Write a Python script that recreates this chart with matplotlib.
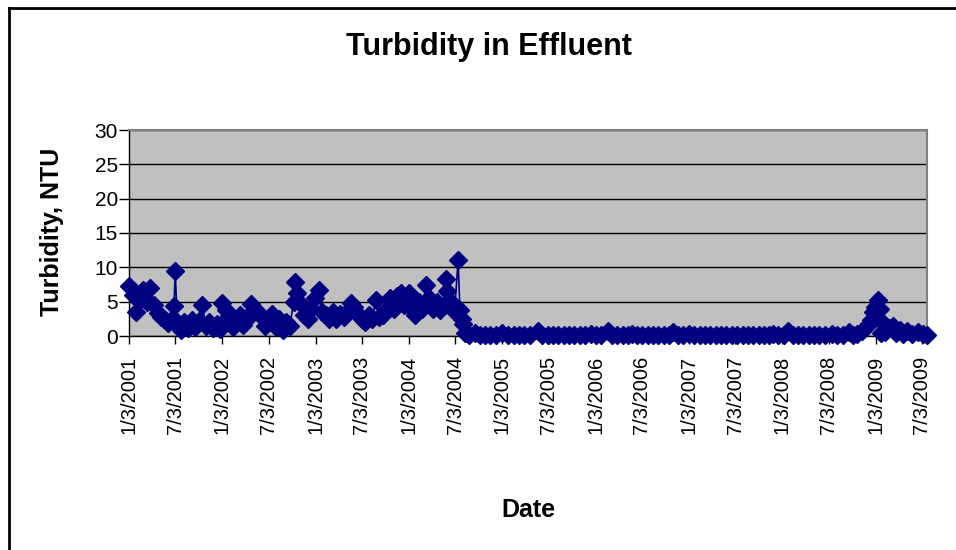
import matplotlib
matplotlib.use("Agg")
import matplotlib.pyplot as plt
from matplotlib.lines import Line2D
import pandas as pd

plt.rcParams['font.family'] = ['Liberation Sans', 'DejaVu Sans']

dates_2001 = ['2001-01-03', '2001-01-17', '2001-01-31', '2001-02-14', '2001-02-28', '2001-03-14',
              '2001-03-28', '2001-04-11', '2001-04-25', '2001-05-09', '2001-05-23', '2001-06-06',
              '2001-06-20', '2001-06-28', '2001-07-03', '2001-07-11', '2001-07-25', '2001-08-08',
              '2001-08-22', '2001-09-05', '2001-09-19', '2001-10-03', '2001-10-17', '2001-10-31',
              '2001-11-14', '2001-11-28', '2001-12-12', '2001-12-26']
vals_2001 = [7.3, 6.0, 3.5, 5.2, 6.7, 5.0,
             7.0, 4.5, 3.3, 2.8, 2.3, 1.9,
             2.5, 4.3, 9.4, 2.0, 0.9, 2.0,
             1.2, 2.3, 1.3, 2.2, 4.5, 1.5,
             2.0, 1.2, 1.8, 1.0]

dates_2002 = ['2002-01-03', '2002-01-16', '2002-01-30', '2002-02-13', '2002-02-27', '2002-03-13',
              '2002-03-27', '2002-04-10', '2002-04-24', '2002-05-08', '2002-05-22', '2002-06-05',
              '2002-06-19', '2002-07-03', '2002-07-17', '2002-07-31', '2002-08-14', '2002-08-28',
              '2002-09-11', '2002-09-25', '2002-10-09', '2002-10-16', '2002-10-23', '2002-11-06',
              '2002-11-20', '2002-12-04', '2002-12-18']
vals_2002 = [4.8, 3.8, 2.8, 1.3, 2.0, 3.0,
             1.6, 2.5, 4.6, 3.8, 3.5, 2.9,
             1.5, 2.0, 3.2, 1.3, 2.5, 0.9,
             2.0, 1.5, 5.0, 7.8, 6.2, 4.7,
             3.0, 2.5, 4.0]

dates_2003 = ['2003-01-02', '2003-01-15', '2003-01-29', '2003-02-12', '2003-02-26', '2003-03-12',
              '2003-03-26', '2003-04-09', '2003-04-23', '2003-05-07', '2003-05-21', '2003-06-04',
              '2003-06-18', '2003-07-02', '2003-07-16', '2003-07-30', '2003-08-13', '2003-08-27',
              '2003-09-10', '2003-09-24', '2003-10-08', '2003-10-22', '2003-11-05', '2003-11-19',
              '2003-12-03', '2003-12-17']
vals_2003 = [5.5, 6.7, 3.5, 3.0, 2.5, 3.5,
             2.5, 3.2, 2.8, 3.5, 4.8, 4.2,
             3.2, 2.5, 2.0, 3.0, 2.5, 5.2,
             2.8, 3.0, 4.0, 5.5, 4.0, 5.8,
             6.2, 4.5]

dates_2004 = ['2004-01-03', '2004-01-14', '2004-01-28', '2004-02-11', '2004-02-25', '2004-03-10',
              '2004-03-24', '2004-04-07', '2004-04-21', '2004-05-05', '2004-05-19', '2004-05-26',
              '2004-06-02', '2004-06-16', '2004-06-23', '2004-06-30', '2004-07-14', '2004-07-21',
              '2004-07-28', '2004-08-04', '2004-08-11', '2004-08-25', '2004-09-18', '2004-10-06',
              '2004-10-27', '2004-11-17', '2004-12-08']
vals_2004 = [6.3, 4.0, 3.0, 5.0, 4.0, 7.5,
             5.5, 4.0, 5.0, 3.8, 4.5, 8.3,
             6.5, 5.0, 4.0, 3.5, 11.0, 3.8,
             2.5, 1.8, 0.5, 0.1, 0.5, 0.1,
             0.1, 0.1, 0.1]

dates_2005_2006 = ['2005-01-02', '2005-01-26', '2005-02-16', '2005-03-09', '2005-03-30', '2005-04-20',
                   '2005-05-22', '2005-06-08', '2005-06-29', '2005-07-20', '2005-08-10', '2005-08-31',
                   '2005-09-21', '2005-10-12', '2005-11-02', '2005-11-23', '2005-12-16', '2006-01-04',
                   '2006-01-25', '2006-02-20', '2006-03-08', '2006-03-29', '2006-04-19', '2006-05-10',
                   '2006-05-25', '2006-06-14', '2006-07-05', '2006-07-26', '2006-08-16', '2006-09-06',
                   '2006-09-27', '2006-10-18', '2006-11-02', '2006-11-22', '2006-12-13']
vals_2005_2006 = [0.4, 0.1, 0.1, 0.1, 0.1, 0.1,
                  0.8, 0.1, 0.1, 0.1, 0.1, 0.1,
                  0.1, 0.1, 0.1, 0.1, 0.3, 0.1,
                  0.1, 0.8, 0.1, 0.1, 0.1, 0.1,
                  0.3, 0.1, 0.1, 0.1, 0.1, 0.1,
                  0.1, 0.1, 0.6, 0.1, 0.1]

dates_2007_2009 = ['2007-01-03', '2007-01-24', '2007-02-14', '2007-03-07', '2007-03-28', '2007-04-18',
                   '2007-05-09', '2007-05-30', '2007-06-20', '2007-07-11', '2007-08-01', '2007-08-22',
                   '2007-09-12', '2007-10-03', '2007-10-24', '2007-11-14', '2007-11-28', '2007-12-19',
                   '2008-01-09', '2008-01-26', '2008-02-13', '2008-03-05', '2008-03-26', '2008-04-16',
                   '2008-05-07', '2008-05-28', '2008-06-18', '2008-07-16', '2008-08-06', '2008-08-27',
                   '2008-09-20', '2008-10-08', '2008-10-22', '2008-11-10', '2008-11-30', '2008-12-15',
                   '2008-12-24', '2009-01-02', '2009-01-12', '2009-01-20', '2009-01-24', '2009-01-30',
                   '2009-02-10', '2009-02-24', '2009-03-10', '2009-03-24', '2009-04-07', '2009-04-21',
                   '2009-05-06', '2009-05-27', '2009-06-17', '2009-07-08', '2009-07-23']
vals_2007_2009 = [0.3, 0.1, 0.1, 0.1, 0.1, 0.1,
                  0.1, 0.1, 0.1, 0.1, 0.1, 0.1,
                  0.1, 0.1, 0.1, 0.1, 0.3, 0.1,
                  0.1, 0.7, 0.1, 0.1, 0.1, 0.1,
                  0.1, 0.1, 0.1, 0.3, 0.1, 0.1,
                  0.6, 0.1, 0.3, 0.8, 1.5, 2.3,
                  3.5, 4.2, 5.2, 4.0, 0.5, 1.9,
                  0.6, 1.2, 1.4, 0.5, 0.9, 0.3,
                  0.8, 0.3, 0.6, 0.3, 0.2]

tick_labels = ['1/3/2001', '7/3/2001', '1/3/2002', '7/3/2002', '1/3/2003', '7/3/2003',
               '1/3/2004', '7/3/2004', '1/3/2005', '7/3/2005', '1/3/2006', '7/3/2006',
               '1/3/2007', '7/3/2007', '1/3/2008', '7/3/2008', '1/3/2009', '7/3/2009']
y_ticks = [0, 5, 10, 15, 20, 25, 30]

dates = pd.to_datetime(dates_2001 + dates_2002 + dates_2003 + dates_2004
                       + dates_2005_2006 + dates_2007_2009)
vals = vals_2001 + vals_2002 + vals_2003 + vals_2004 + vals_2005_2006 + vals_2007_2009

fig = plt.figure(figsize=(9.56, 5.5), dpi=100)
fig.patch.set_facecolor('white')
ax = fig.add_axes([129 / 956, 1 - 336 / 550, (927 - 129) / 956, (336 - 130) / 550])
ax.set_facecolor('#C0C0C0')

ax.plot(dates, vals, color='#000080', linewidth=1.2, marker='D', markersize=9.5,
        markeredgecolor='#000080', markerfacecolor='#000080', clip_on=False, zorder=3)

ax.set_ylim(0, 30)
ax.set_yticks(y_ticks)
ax.set_xlim(pd.Timestamp('2001-01-03'), pd.Timestamp('2009-07-23'))
tick_pos = pd.to_datetime(tick_labels, format='%m/%d/%Y')
ax.set_xticks(tick_pos)
ax.set_xticklabels(tick_labels, rotation=90, fontsize=14.5)
ax.tick_params(axis='y', labelsize=15, direction='out', length=7, width=1, color='black', pad=1)
ax.tick_params(axis='x', direction='out', length=6, width=1, color='black', pad=8)

ax.yaxis.grid(True, color='black', linewidth=1)
ax.set_axisbelow(True)
for s in ['top', 'right']:
    ax.spines[s].set_color('#808080')
    ax.spines[s].set_linewidth(1.5)
for s in ['left', 'bottom']:
    ax.spines[s].set_color('black')
    ax.spines[s].set_linewidth(1)

fig.text(489 / 956, 1 - 47 / 550, 'Turbidity in Effluent', ha='center', va='center',
         fontsize=22, fontweight='bold')
fig.text(52 / 956, 1 - 232 / 550, 'Turbidity, NTU', ha='center', va='center',
         rotation=90, fontsize=18, fontweight='bold')
fig.text(528 / 956, 1 - 510 / 550, 'Date', ha='center', va='center',
         fontsize=18, fontweight='bold')

# chart border (only left and top edges visible in the frame)
fig.add_artist(Line2D([9 / 956, 9 / 956], [0, 1 - 8 / 550], transform=fig.transFigure,
                      color='black', linewidth=2))
fig.add_artist(Line2D([9 / 956, 1], [1 - 8 / 550, 1 - 8 / 550], transform=fig.transFigure,
                      color='black', linewidth=2))

fig.savefig('out.png', dpi=100)
